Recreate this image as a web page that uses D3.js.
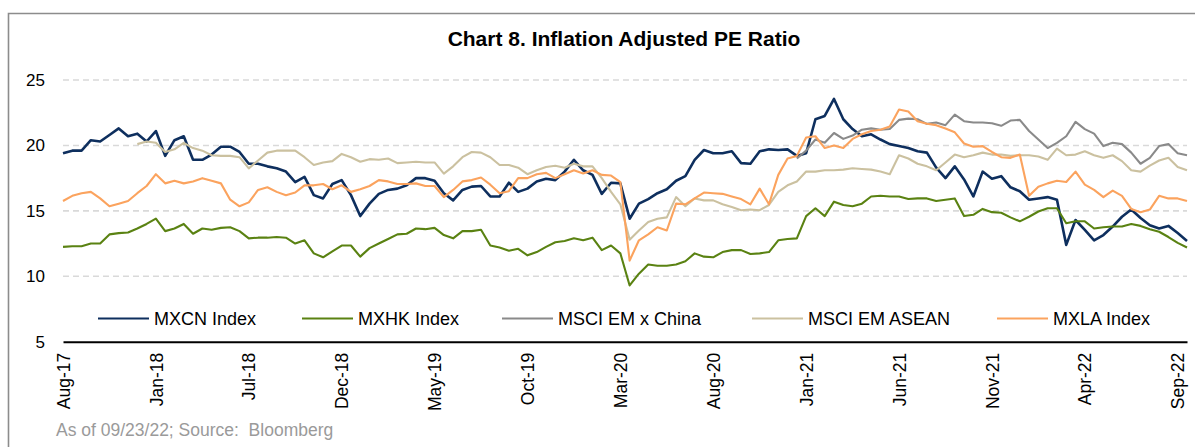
<!DOCTYPE html>
<html><head><meta charset="utf-8">
<script src="https://cdn.jsdelivr.net/npm/d3@7"></script>
<style>body{margin:0;background:#fff;} svg{display:block;font-family:"Liberation Sans",Arial,sans-serif;}</style>
</head><body><svg id="c" width="1195" height="447"></svg>
<script>
const tickLabels = ["Aug-17","Jan-18","Jul-18","Dec-18","May-19","Oct-19","Mar-20","Aug-20","Jan-21","Jun-21","Nov-21","Apr-22","Sep-22"];
const yTicks = [5, 10, 15, 20, 25];
const seriesNames = ["MXCN Index","MXHK Index","MSCI EM x China","MSCI EM ASEAN","MXLA Index"];

const mxcn = [19.4,19.6,19.6,20.4,20.3,20.8,21.3,20.7,20.9,20.3,21.1,19.2,20.4,20.7,18.9,18.9,19.3,19.9,19.9,19.5,18.6,
18.6,18.4,18.25,18.0,17.2,17.6,16.2,15.95,17.05,17.35,16.2,14.6,15.55,16.3,16.6,16.7,16.95,17.5,17.5,17.3,
16.35,15.8,16.6,16.85,16.9,16.1,16.1,17.15,16.45,16.7,17.25,17.45,17.35,18.0,18.9,18.1,17.75,16.3,17.15,17.1,
14.4,15.55,15.9,16.35,16.65,17.3,17.65,18.9,19.65,19.4,19.4,19.55,18.65,18.6,19.55,19.7,19.65,19.7,19.2,19.4,
22.0,22.25,23.55,22.0,21.25,20.7,20.85,20.45,20.1,19.95,19.8,19.55,19.45,18.3,17.5,18.4,17.4,16.1,18.0,17.45,
17.65,16.8,16.5,15.85,15.95,16.05,15.85,12.4,14.3,13.55,12.75,13.15,13.8,14.55,15.1,14.45,13.9,13.65,13.85,13.3,12.7];

const mxhk = [12.25,12.3,12.3,12.5,12.5,13.2,13.3,13.35,13.65,14.0,14.4,13.45,13.65,14.0,13.25,13.65,13.55,13.7,13.75,13.45,12.9,
12.95,12.95,13.0,12.95,12.5,12.75,11.75,11.45,11.9,12.35,12.35,11.5,12.15,12.5,12.85,13.2,13.25,13.65,13.6,13.7,
13.15,12.9,13.45,13.45,13.55,12.35,12.2,11.95,12.1,11.6,11.85,12.25,12.6,12.7,12.9,12.75,12.95,12.0,12.35,11.75,
9.3,10.2,10.9,10.8,10.8,10.9,11.15,11.75,11.5,11.45,11.85,12.0,12.0,11.7,11.75,11.85,12.75,12.85,12.9,14.6,
15.2,14.6,15.7,15.45,15.35,15.55,16.1,16.15,16.1,16.1,15.9,15.95,15.95,15.75,15.85,15.95,14.6,14.7,15.15,14.9,
14.85,14.5,14.2,14.55,14.95,15.2,15.2,14.05,14.2,14.2,13.65,13.75,13.8,13.8,14.0,13.85,13.6,13.4,13.0,12.55,12.2];

const emxChina = [null,null,null,null,null,null,null,null,null,null,null,null,null,null,null,null,null,null,null,null,null,
null,null,null,null,null,null,null,null,null,null,null,null,null,null,null,null,null,null,null,null,
null,null,null,null,null,null,null,null,null,null,null,null,null,null,null,null,null,null,null,null,
null,null,null,null,null,null,null,null,null,null,null,null,null,null,null,null,null,null,19.0,19.6,
20.45,20.2,20.95,20.5,20.75,21.2,21.3,21.2,21.25,21.95,22.05,22.0,21.65,21.75,21.55,22.35,21.85,21.75,21.75,21.7,
21.5,21.9,21.95,21.1,20.45,19.8,20.2,20.7,21.8,21.25,20.9,19.95,20.2,20.1,19.45,18.6,19.05,19.95,20.1,19.4,19.25];

const asean = [null,null,null,null,null,null,null,null,20.1,20.3,20.2,19.5,19.7,20.2,19.8,19.6,19.25,19.2,19.2,19.1,18.25,
18.85,19.45,19.6,19.6,19.6,19.1,18.5,18.7,18.8,19.35,19.1,18.75,18.95,18.9,19.0,18.65,18.7,18.75,18.7,18.7,
17.85,18.4,19.1,19.5,19.45,19.1,18.5,18.5,18.3,17.8,18.1,18.35,18.45,18.3,18.6,18.4,18.4,17.5,16.45,15.5,
12.8,13.5,14.15,14.4,14.5,16.05,15.35,15.95,15.8,15.8,15.5,15.3,15.05,15.1,15.05,15.45,16.45,16.95,17.25,18.0,
18.0,18.1,18.1,18.15,18.25,18.2,18.15,18.0,17.8,19.25,19.0,18.6,18.4,18.1,18.7,19.3,19.1,19.25,19.45,19.3,
19.3,19.2,19.25,19.25,19.15,18.9,19.75,19.25,19.3,19.55,19.25,19.05,19.25,18.8,18.1,18.0,18.45,18.85,19.05,18.35,18.1];

const mxla = [15.75,16.15,16.35,16.45,15.95,15.35,15.55,15.75,16.35,16.9,17.8,17.1,17.3,17.1,17.25,17.5,17.3,17.1,15.85,15.35,15.65,
16.6,16.8,16.45,16.2,16.4,16.95,16.95,17.05,16.65,16.95,16.45,16.65,16.9,17.35,17.25,17.05,17.05,17.1,16.9,16.9,
16.05,16.6,17.25,17.35,17.55,17.0,16.35,16.5,17.5,17.5,17.8,17.9,17.5,17.8,18.1,17.85,18.1,17.75,17.7,17.2,
11.2,12.75,13.2,13.75,13.5,15.55,15.5,15.95,16.4,16.35,16.3,16.1,15.9,15.5,16.7,15.5,17.75,19.0,19.2,20.6,
20.7,19.8,20.0,19.8,20.5,20.85,21.1,21.2,21.45,22.75,22.6,21.85,21.65,21.55,21.3,21.0,20.15,19.9,19.95,19.5,
19.1,19.05,19.3,16.15,16.85,17.1,17.3,17.2,18.0,17.0,16.6,16.05,16.55,16.15,15.15,14.9,15.1,16.15,15.95,15.95,15.75];

const colors = ["#0e2f5e","#5a8212","#8a8a8a","#cbc1a0","#fba35e"];
const widths = [2.6, 2.1, 2.1, 2.1, 2.1];
const allSeries = [mxcn, mxhk, emxChina, asean, mxla];

const svg = d3.select("#c");
const x = d3.scaleLinear().domain([0, mxcn.length - 1]).range([63, 1187]);
const y = d3.scaleLinear().domain([5, 25]).range([341.7, 80]);

// frame
svg.append("path").attr("d","M8.5,447V13.5H1195").attr("fill","none").attr("stroke","#8c8c8c").attr("stroke-width",1.6);

// title
svg.append("text").attr("x",624).attr("y",46).attr("text-anchor","middle")
  .attr("font-size",21).attr("font-weight","bold").attr("fill","#000")
  .text("Chart 8. Inflation Adjusted PE Ratio");

// gridlines
svg.append("g").selectAll("line").data(yTicks.filter(d => d > 5)).join("line")
  .attr("x1", 63).attr("x2", 1187).attr("y1", d => y(d)).attr("y2", d => y(d))
  .attr("stroke","#d9d9d9").attr("stroke-width",1.6).attr("stroke-dasharray","6,4");

// y axis
const yAxis = svg.append("g").attr("transform","translate(63,0)")
  .call(d3.axisLeft(y).tickValues(yTicks).tickSize(0).tickPadding(18).tickFormat(d3.format("d")));
yAxis.select(".domain").remove();
yAxis.selectAll("text").attr("font-size",17).attr("fill","#000").attr("font-family","Liberation Sans, Arial, sans-serif");

// lines
const line = d3.line().defined(d => d != null).x((d, i) => x(i)).y(d => y(d));
allSeries.forEach((s, k) => {
  svg.append("path").datum(s).attr("d", line).attr("fill","none")
    .attr("stroke", colors[k]).attr("stroke-width", widths[k]).attr("stroke-linejoin","round");
});

// x axis
const xAxis = svg.append("g").attr("transform",`translate(0,${y(5)})`)
  .call(d3.axisBottom(x).tickValues(d3.range(0, 121, 10)).tickSize(0).tickFormat((d, i) => tickLabels[i]));
xAxis.select(".domain").attr("stroke","#000").attr("stroke-width",2);
xAxis.selectAll("text").attr("font-size",17.5).attr("fill","#000").attr("font-family","Liberation Sans, Arial, sans-serif")
  .attr("text-anchor","end").attr("transform","translate(0,11) rotate(-90)").attr("x",0).attr("y",0).attr("dy","0.35em");

// legend
const legX = [98, 302, 502, 752, 997];
const leg = svg.append("g");
seriesNames.forEach((n, k) => {
  leg.append("line").attr("x1", legX[k]).attr("x2", legX[k] + 51).attr("y1", 318.5).attr("y2", 318.5)
    .attr("stroke", colors[k]).attr("stroke-width", 2.2);
  leg.append("text").attr("x", legX[k] + 56).attr("y", 318.5).attr("dy","0.35em")
    .attr("font-size", 18).attr("fill","#000").text(n);
});

// footnote
svg.append("text").attr("x",56).attr("y",436).attr("font-size",17.5).attr("fill","#9a9a9a")
  .text("As of 09/23/22; Source:  Bloomberg").attr("xml:space","preserve").style("white-space","pre");
</script></body></html>
